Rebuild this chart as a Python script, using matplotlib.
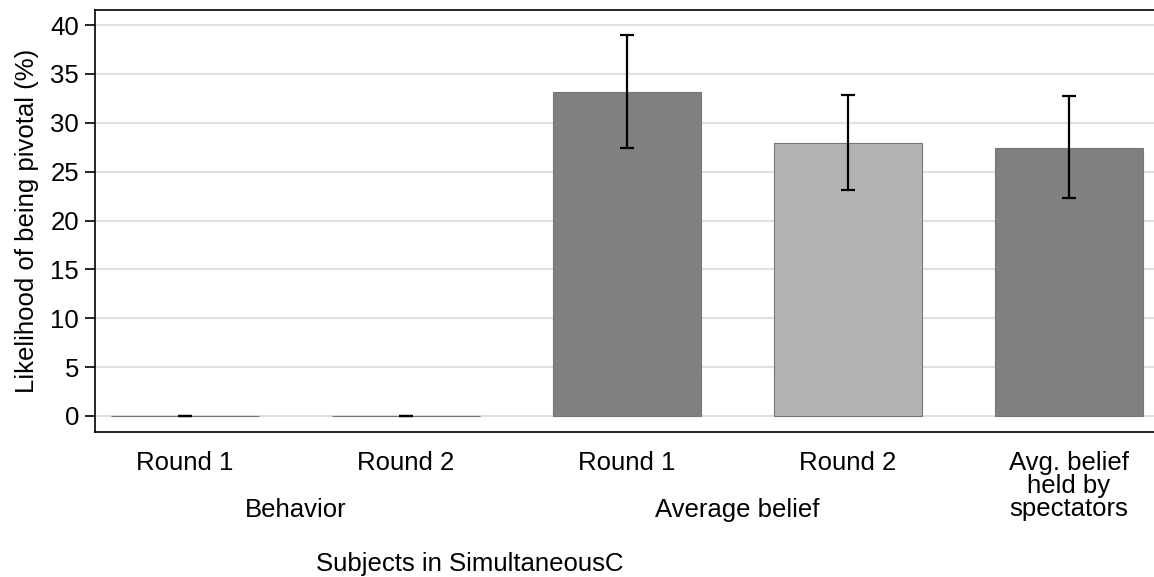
import matplotlib
matplotlib.use("Agg")
import matplotlib.pyplot as plt
import matplotlib.transforms as mtransforms
import numpy as np

plt.rcParams['font.family'] = ['Liberation Sans', 'DejaVu Sans']

tick_labels = ["Round 1", "Round 2", "Round 1", "Round 2", "Avg. belief\nheld by\nspectators"]
group_labels = ["Behavior", "Average belief"]
values = [0.0, 0.0, 33.2, 27.9, 27.4]
err_low = [0.0, 0.0, 27.4, 23.1, 22.3]
err_high = [0.0, 0.0, 39.0, 32.8, 32.7]
colors = ["#808080", "#b3b3b3", "#808080", "#b3b3b3", "#808080"]
yticks = [0, 5, 10, 15, 20, 25, 30, 35, 40]

FS = 18.5
fig = plt.figure(figsize=(11.54, 5.77), dpi=100)
ax = fig.add_axes([94.5/1154, 1-432/577, (1154-94.5)/1154, (432-9.5)/577])

x = np.arange(len(values))
ax.bar(x, values, width=0.67, color=colors, edgecolor="#767676", linewidth=0.8, zorder=2)
v = np.array(values)
ax.errorbar(x, v, yerr=[v - np.array(err_low), np.array(err_high) - v], fmt='none',
            ecolor='black', elinewidth=1.6, capsize=4.8, capthick=1.6, zorder=3)

ax.set_xlim(-0.41, 4.385)
ax.set_ylim(-1.64, 41.6)
ax.set_yticks(yticks)
ax.set_yticklabels([str(t) for t in yticks], fontsize=FS)
ax.yaxis.grid(True, color="#e0e0e0", linewidth=1.5, zorder=0)
ax.set_axisbelow(True)
ax.tick_params(axis='y', length=7, width=1.2, direction='out', pad=4)
ax.set_xticks(x)
ax.set_xticklabels(tick_labels, fontsize=FS, va='top', linespacing=0.93)
ax.tick_params(axis='x', length=0, pad=14)
for s in ['left', 'top', 'bottom']:
    ax.spines[s].set_linewidth(1.2)
ax.spines['right'].set_visible(False)

ax.set_ylabel("Likelihood of being pivotal (%)", fontsize=FS, labelpad=8)

# group labels
gx = [0.5, 2.5]
trans = mtransforms.blended_transform_factory(ax.transData, fig.transFigure)
for g, xx in zip(group_labels, gx):
    ax.text(xx, 1 - 510/577, g, transform=trans, ha='center', va='center', fontsize=FS)
fig.text(470/1154, 1 - 564/577, "Subjects in SimultaneousC", ha='center', va='center', fontsize=FS)

fig.savefig("out.png", dpi=100)
